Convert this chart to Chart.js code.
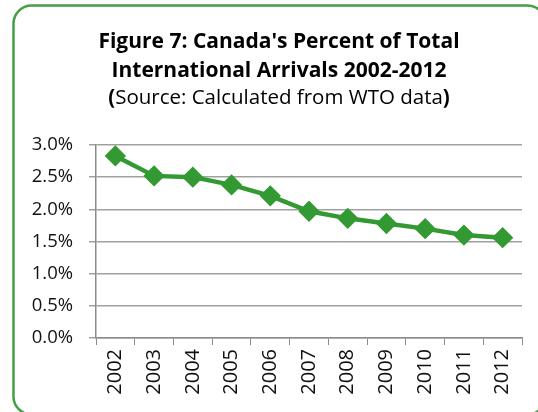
<!DOCTYPE html>
<html>
<head>
<meta charset="utf-8">
<script src="https://cdn.jsdelivr.net/npm/chart.js@4/dist/chart.umd.min.js"></script>
<style>
  html, body { margin: 0; padding: 0; background: #ffffff; }
  #wrap { width: 538px; height: 412px; position: relative; }
</style>
</head>
<body>
<div id="wrap"><canvas id="c"></canvas></div>
<script>
// Canada's share of total international tourist arrivals, by year
const years = ['2002', '2003', '2004', '2005', '2006', '2007', '2008', '2009', '2010', '2011', '2012'];
const canadaShare = [2.83, 2.52, 2.50, 2.38, 2.21, 1.97, 1.86, 1.78, 1.70, 1.60, 1.56];
const titleLines = ["Figure 7: Canada's Percent of Total", 'International Arrivals 2002-2012'];
const sourceNote = 'Source: Calculated from WTO data';

const FONT = "'Open Sans', 'Noto Sans', sans-serif";
const GREEN = '#339933';
const HEADER_CENTER = 279;

// Rounded green frame around the whole figure
const framePlugin = {
  id: 'frame',
  beforeDraw(chart) {
    const ctx = chart.ctx;
    ctx.save();
    ctx.fillStyle = '#ffffff';
    ctx.fillRect(0, 0, chart.width, chart.height);
    ctx.strokeStyle = '#43a043';
    ctx.lineWidth = 2.5;
    ctx.beginPath();
    ctx.roundRect(13.5, 5.5, 532, 409, 18);
    ctx.stroke();
    ctx.restore();
  }
};

// Two-line bold heading plus the source line with bold parentheses
const headerPlugin = {
  id: 'header',
  afterDraw(chart) {
    const ctx = chart.ctx;
    ctx.save();
    ctx.fillStyle = '#000000';
    ctx.textBaseline = 'middle';
    ctx.textAlign = 'center';
    ctx.font = `bold 21px ${FONT}`;
    ctx.fillText(titleLines[0], HEADER_CENTER, 42.5);
    ctx.fillText(titleLines[1], HEADER_CENTER, 71);

    const size = 20.5;
    const bold = `bold ${size}px ${FONT}`;
    const normal = `normal ${size}px ${FONT}`;
    const parts = [['(', bold], [sourceNote, normal], [')', bold]];
    ctx.textAlign = 'left';
    let total = 0;
    const widths = parts.map(([t, f]) => { ctx.font = f; const w = ctx.measureText(t).width; total += w; return w; });
    let x = HEADER_CENTER - total / 2;
    parts.forEach(([t, f], i) => { ctx.font = f; ctx.fillText(t, x, 98); x += widths[i]; });
    ctx.restore();
  }
};

new Chart(document.getElementById('c'), {
  type: 'line',
  data: {
    labels: years,
    datasets: [{
      data: canadaShare,
      borderColor: GREEN,
      backgroundColor: GREEN,
      borderWidth: 4.5,
      pointStyle: 'rectRot',
      pointRadius: 7.5,
      pointHoverRadius: 7.5,
      pointBackgroundColor: GREEN,
      pointBorderColor: GREEN,
      tension: 0
    }]
  },
  options: {
    responsive: true,
    maintainAspectRatio: false,
    animation: false,
    layout: { padding: { top: 145, left: 20, right: 16, bottom: 0 } },
    plugins: {
      legend: { display: false },
      tooltip: { enabled: false },
      title: { display: false }
    },
    scales: {
      x: {
        type: 'category',
        offset: true,
        afterFit(scale) { scale.height = 74; },
        grid: {
          offset: true,
          drawOnChartArea: false,
          drawTicks: true,
          tickLength: 7,
          color: '#8c8c8c',
          lineWidth: 1
        },
        border: { color: '#8c8c8c', width: 1.5 },
        ticks: {
          color: '#111111',
          font: { family: FONT, size: 20 },
          minRotation: 90,
          maxRotation: 90,
          padding: 4,
          autoSkip: false
        }
      },
      y: {
        min: 0,
        max: 3,
        afterFit(scale) { scale.width = 76; },
        grid: {
          color: '#a0a0a0',
          lineWidth: 1.5,
          drawTicks: true,
          tickLength: 7
        },
        border: { color: '#8c8c8c', width: 1.5 },
        ticks: {
          stepSize: 0.5,
          color: '#111111',
          font: { family: FONT, size: 18.5 },
          padding: 16,
          callback: (v) => v.toFixed(1) + '%'
        }
      }
    }
  },
  plugins: [framePlugin, headerPlugin]
});
</script>
</body>
</html>
